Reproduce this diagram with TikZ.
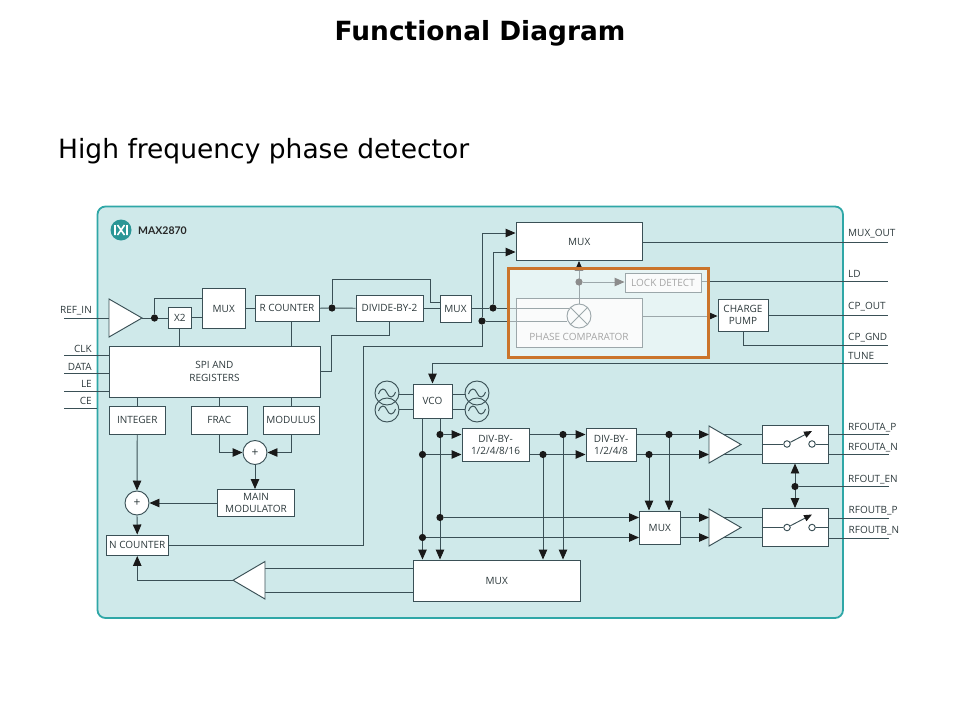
\documentclass[tikz,border=0pt]{standalone}
\usepackage{fontspec}
\usetikzlibrary{arrows.meta,calc}
\setmainfont{Open Sans}
\newfontfamily\ttlf{DejaVu Sans}
\newfontfamily\logof{Lato}
\definecolor{ln}{HTML}{3A5056}
\definecolor{pnl}{HTML}{CFE9EA}
\definecolor{pnlb}{HTML}{2FA7A7}
\definecolor{org}{HTML}{CB742B}
\definecolor{txt}{HTML}{2E3A3D}
\definecolor{grayfill}{HTML}{F6F8F8}
\pgfdeclarelayer{panel}\pgfdeclarelayer{conn}\pgfdeclarelayer{over}
\pgfsetlayers{panel,conn,main,over}
\tikzset{
  x=1pt,y=-1pt,
  bx/.style={draw=ln,fill=white,line width=.95pt,inner sep=0pt,align=center,font=\fontsize{10}{12.4}\selectfont,text=txt},
  pin/.style={inner sep=0pt,font=\fontsize{10}{12}\selectfont,text=txt},
  wire/.style={draw=ln,line width=.95pt},
  arr/.style={wire,-{Triangle[length=10pt,width=8.5pt,color=black!90]}},
  darr/.style={wire,{Triangle[length=10pt,width=8.5pt,color=black!90]}-{Triangle[length=10pt,width=8.5pt,color=black!90]}},
  jdot/.style={circle,fill=black!90,inner sep=0pt,minimum size=7.2pt},
  ring/.style={circle,draw=ln,line width=.95pt,fill=white,inner sep=0pt,minimum size=24pt,font=\fontsize{12}{12}\selectfont,text=txt},
  osc/.style={circle,draw=ln,line width=.95pt,inner sep=0pt,minimum size=24pt},
  contact/.style={circle,draw=ln,line width=.95pt,fill=white,inner sep=0pt,minimum size=6.5pt},
  tri/.style={draw=ln,fill=white,line width=.95pt,line join=miter},
}
\newcommand{\bxn}[7][]{%
  \pgfmathsetmacro{\mycx}{(#3+#5)/2}\pgfmathsetmacro{\mycy}{(#4+#6)/2}%
  \pgfmathsetmacro{\myw}{#5-#3}\pgfmathsetmacro{\myh}{#6-#4}%
  \node[bx,minimum width=\myw pt,minimum height=\myh pt,#1] (#2) at (\mycx,\mycy) {#7};}
\newcommand{\ampn}[5]{% name, xbase, ytop, ybottom, xtip
  \pgfmathsetmacro{\mycy}{(#3+#4)/2}%
  \draw[tri] (#2,#3) -- (#5,\mycy) -- (#2,#4) -- cycle;
  \coordinate (#1-b) at (#2,\mycy);\coordinate (#1-t) at (#5,\mycy);}
\newcommand{\wave}[1]{%
  \draw[ln,line width=.95pt] ($(#1.center)+(-8.5,1)$) .. controls ($(#1.center)+(-6,-6)$) and ($(#1.center)+(-2,-5)$) .. (#1.center) .. controls ($(#1.center)+(2,5)$) and ($(#1.center)+(6,6)$) .. ($(#1.center)+(8.5,-1)$);}
\newcommand{\pinl}[4]{\node[pin,anchor=#2,yshift=-1pt] (#1) at #3 {#4};}
\begin{document}
\begin{tikzpicture}
\useasboundingbox (0,0) rectangle (960,720);
\node[inner sep=0pt,font=\ttlf\bfseries\fontsize{26.4}{30}\selectfont,text=black] (title) at (480,33.5) {Functional Diagram};
\node[inner sep=0pt,anchor=west,font=\ttlf\fontsize{26.5}{30}\selectfont,text=black] (sub) at (58,151.5) {High frequency phase detector};
\begin{pgfonlayer}{panel}
\draw[draw=pnlb,fill=pnl,line width=1.8pt,rounded corners=8pt] (97.5,206.5) rectangle (843,618);
\end{pgfonlayer}
% logo
\node[circle,fill=pnlb!90!black,minimum size=21pt,inner sep=0pt] (logo) at (121,230) {};
\draw[white,line width=1.6pt] ($(logo)+(-6,-5)$) -- ($(logo)+(-6,5)$) ($(logo)+(6,-5)$) -- ($(logo)+(6,5)$) ($(logo)+(-3.5,-5)$) -- ($(logo)+(3.5,5)$) ($(logo)+(3.5,-5)$) -- ($(logo)+(-3.5,5)$);
\node[pin,anchor=west,yshift=0pt,font=\logof\bfseries\fontsize{10.5}{12}\selectfont,text=black!85] (partno) at (138,230.5) {MAX2870};
% boxes
\bxn{xtwo}{168}{307}{191.5}{328.5}{X2}
\bxn{muxa}{202}{288.5}{245.5}{328.5}{MUX}
\bxn{rcnt}{255}{295}{319}{321.5}{R COUNTER}
\bxn{divtwo}{356}{295}{423}{321.5}{DIVIDE-BY-2}
\bxn{muxb}{440}{295.5}{471}{322}{MUX}
\bxn{spi}{109}{346}{320}{397}{SPI AND\\REGISTERS}
\bxn{intg}{109.5}{406}{165}{434}{INTEGER}
\bxn{frac}{191.5}{406}{247}{434}{FRAC}
\bxn{modl}{263}{406}{319}{434}{MODULUS}
\bxn{mainm}{217.5}{489.5}{294.5}{516.5}{MAIN\\MODULATOR}
\bxn{ncnt}{106.5}{535}{168}{555.5}{N COUNTER}
\bxn{muxtop}{516}{222.5}{642.5}{260.5}{MUX}
\bxn[fill=grayfill,text=black!70]{lock}{625}{273}{701}{292.5}{LOCK DETECT}
\bxn[fill=grayfill]{phbox}{516}{298}{642}{347}{}
\node[pin,text=black!70] (phtxt) at (579,337) {PHASE COMPARATOR};
\bxn{cpump}{718}{299}{768}{331}{CHARGE\\PUMP}
\bxn{vco}{413}{384}{452}{418}{VCO}
\bxn{diva}{462}{428}{529}{461.5}{DIV-BY-\\1/2/4/8/16}
\bxn{divb}{586}{428}{636}{461.5}{DIV-BY-\\1/2/4/8}
\bxn{muxs}{639.5}{511}{680}{544.5}{MUX}
\bxn{muxbot}{413}{560}{580.5}{601}{MUX}
\bxn{swa}{762}{425.5}{828}{463}{}
\bxn{swb}{762}{508.5}{828}{546.5}{}
% junctions
\node[jdot] (ja) at (154.5,318) {};
\node[jdot] (jb) at (332,308) {};
\node[jdot] (jc) at (493,308) {};
\node[jdot] (jd) at (482,321) {};
\node[jdot] (je) at (579,282) {};
\node[jdot] (jf) at (440,434.5) {};
\node[jdot] (jg) at (422.5,454.5) {};
\node[jdot] (jh) at (440,517.5) {};
\node[jdot] (ji) at (422.5,537.5) {};
\node[jdot] (jj) at (563,434.5) {};
\node[jdot] (jk) at (543,454.5) {};
\node[jdot] (jl) at (669,434.5) {};
\node[jdot] (jm) at (649,454.5) {};
\node[jdot] (jn) at (795,486.5) {};
% comparator inputs run over the box
\coordinate (cmpc) at (579,316);
\draw[wire] (phbox.west |- jc) -- (568.5,308);
\draw[wire] (phbox.west |- jd) -- (567,321);
\draw[wire] (cmpc |- phbox.north) -- (cmpc);
% rings
\node[ring] (suma) at (137,503) {+};
\node[ring] (sumb) at (255,452.5) {+};
\node[ring,fill=grayfill] (cmp) at (cmpc) {};
\draw[ln,line width=.95pt] (cmp.north west) -- (cmp.south east) (cmp.north east) -- (cmp.south west);
% oscillators
\node[osc] (osca) at (387,393) {};
\node[osc] (oscb) at (387,410) {};
\node[osc] (oscc) at (477,393) {};
\node[osc] (oscd) at (477,410) {};
\wave{osca}\wave{oscb}\wave{oscc}\wave{oscd}
% triangles
\ampn{ain}{109}{299}{337}{142}
\ampn{afb}{265}{561.5}{599}{233}
\ampn{aa}{709}{426}{463}{741}
\ampn{ab}{709}{509}{546}{741}
% switches
\node[contact] (sac) at (787,444) {};
\node[contact] (sao) at (812,444) {};
\node[contact] (sbc) at (787,527.5) {};
\node[contact] (sbo) at (812,527.5) {};
% pin labels and free ends
\pinl{lrefin}{east}{(92,310)}{REF\_IN}
\pinl{lclk}{east}{(92,347.5)}{CLK}
\pinl{ldata}{east}{(92,365.5)}{DATA}
\pinl{lle}{east}{(92,382.5)}{LE}
\pinl{lce}{east}{(92,400)}{CE}
\pinl{lmuxo}{west}{(848,233)}{MUX\_OUT}
\pinl{lld}{west}{(848,272.5)}{LD}
\pinl{lcpo}{west}{(848,306)}{CP\_OUT}
\pinl{lcpg}{west}{(848,336.5)}{CP\_GND}
\pinl{ltune}{west}{(848,355)}{TUNE}
\pinl{lrap}{west}{(848,427)}{RFOUTA\_P}
\pinl{lran}{west}{(848,447)}{RFOUTA\_N}
\pinl{lren}{west}{(848,479)}{RFOUT\_EN}
\pinl{lrbp}{west}{(848.5,510)}{RFOUTB\_P}
\pinl{lrbn}{west}{(848.5,530)}{RFOUTB\_N}
\coordinate (prefin) at (64,318);
\coordinate (pclk) at (64,355.5);
\coordinate (pdata) at (64,373.5);
\coordinate (ple) at (64,391);
\coordinate (pce) at (64,408);
\coordinate (pce2) at (97,408);
\coordinate (pmuxo) at (888,242);
\coordinate (pld) at (888,281.5);
\coordinate (pcpo) at (888,315);
\coordinate (pcpg) at (888,345);
\coordinate (ptune) at (888,363.5);
\coordinate (prap) at (889,434.5);
\coordinate (pran) at (889,454.5);
\coordinate (pren) at (889,486.5);
\coordinate (prbp) at (889,518);
\coordinate (prbn) at (889,538);
\begin{pgfonlayer}{conn}
\draw[wire] (prefin) -- (ain-b);
\draw[wire] (pclk) -- (spi.west |- pclk);
\draw[wire] (pdata) -- (spi.west |- pdata);
\draw[wire] (ple) -- (spi.west |- ple);
\draw[wire] (pce) -- (pce2);
\draw[wire] (ain-t) -- (ja);
\draw[wire] (ja) -- (xtwo.west |- ja);
\draw[wire] (ja) -- (154.5,298.5) -- (muxa.west |- 0,298.5);
\draw[wire] (xtwo.east) -- (muxa.west |- xtwo.east);
\draw[wire] (xtwo.south) -- (spi.north -| xtwo.south);
\draw[wire] (muxa.east |- rcnt.west) -- (rcnt.west);
\draw[wire] (rcnt.east) -- (jb) -- (divtwo.west);
\draw[wire] (rcnt.south -| modl.north) -- (spi.north -| modl.north);
\draw[wire] (jb) -- (332,279) -- (430,279) -- (430,302) -- (muxb.west |- 0,302);
\draw[wire] (divtwo.east) -- (muxb.west |- divtwo.east);
\draw[wire] (divtwo.south) -- (divtwo.south |- 0,335) -- (331,335) -- (331,371) -- (spi.east |- 0,371);
\draw[wire] (muxb.east |- jc) -- (jc) -- (phbox.west |- jc);
\draw[arr] (jc) -- (jc |- 0,252) -- (muxtop.west |- 0,252);
\draw[wire] (jd) -- (phbox.west |- jd);
\draw[arr] (jd) -- (jd |- 0,233) -- (muxtop.west |- 0,233);
\draw[wire] (jd) -- (jd |- 0,346) -- (363,346) -- (363,545.5) -- (ncnt.east |- 0,545.5);
\draw[arr] (phbox.north -| cmpc) -- (muxtop.south -| cmpc);
\draw[arr] (je) -- (lock.west |- je);
\draw[wire] (muxtop.east |- pmuxo) -- (pmuxo);
\draw[wire] (lock.east |- pld) -- (pld);
\draw[arr] (phbox.east |- cmpc) -- (cpump.west |- cmpc);
\draw[wire] (cpump.east) -- (pcpo);
\draw[wire] (cpump.south) -- (cpump.south |- pcpg) -- (pcpg);
\draw[arr] (ptune) -- (vco.north |- ptune) -- (vco.north);
\draw[wire] (osca.east |- 0,394.5) -- (vco.west |- 0,394.5);
\draw[wire] (oscb.east |- 0,409) -- (vco.west |- 0,409);
\draw[wire] (vco.east |- 0,394.5) -- (oscc.west |- 0,394.5);
\draw[wire] (vco.east |- 0,409) -- (oscd.west |- 0,409);
\draw[arr] (vco.south -| jg) -- (muxbot.north -| jg);
\draw[arr] (vco.south -| jf) -- (muxbot.north -| jf);
\draw[arr] (jf) -- (diva.west |- jf);
\draw[arr] (jg) -- (diva.west |- jg);
\draw[arr] (jh) -- (muxs.west |- jh);
\draw[arr] (ji) -- (muxs.west |- ji);
\draw[arr] (diva.east |- jj) -- (divb.west |- jj);
\draw[arr] (diva.east |- jk) -- (divb.west |- jk);
\draw[arr] (jj) -- (muxbot.north -| jj);
\draw[arr] (jk) -- (muxbot.north -| jk);
\draw[arr] (divb.east |- jl) -- (aa-b |- jl);
\draw[arr] (divb.east |- jm) -- (aa-b |- jm);
\draw[arr] (jl) -- (muxs.north -| jl);
\draw[arr] (jm) -- (muxs.north -| jm);
\draw[arr] (muxs.east |- jh) -- (ab-b |- jh);
\draw[arr] (muxs.east |- ji) -- (ab-b |- ji);
\draw[wire] (aa-b |- jl) -- (swa.west |- jl);
\draw[wire] (aa-b |- jm) -- (swa.west |- jm);
\draw[wire] (ab-b |- jh) -- (swb.west |- jh);
\draw[wire] (ab-b |- ji) -- (swb.west |- ji);
\draw[wire] (swa.east |- prap) -- (prap);
\draw[wire] (swa.east |- pran) -- (pran);
\draw[wire] (swb.east |- prbp) -- (prbp);
\draw[wire] (swb.east |- prbn) -- (prbn);
\draw[wire] (jn) -- (pren);
\draw[darr] (swa.south -| jn) -- (swb.north -| jn);
\draw[wire] (muxbot.west |- 0,568) -- (afb-b |- 0,568);
\draw[wire] (muxbot.west |- 0,592.5) -- (afb-b |- 0,592.5);
\draw[arr] (afb-t) -- (ncnt.south |- afb-t) -- (ncnt.south);
\draw[wire] (spi.south -| intg.south) -- (intg.north);
\draw[wire] (spi.south -| frac.south) -- (frac.north);
\draw[wire] (spi.south -| modl.south) -- (modl.north);
\draw[arr] (intg.south) -- (suma.north);
\draw[arr] (suma.south) -- (ncnt.north);
\draw[arr] (frac.south) -- (frac.south |- sumb) -- (sumb.west);
\draw[arr] (modl.south) -- (modl.south |- sumb) -- (sumb.east);
\draw[arr] (sumb.south) -- (mainm.north -| sumb.south);
\draw[arr] (mainm.west |- suma) -- (suma.east);
\end{pgfonlayer}
% switch interiors
\draw[wire] (swa.west |- sac) -- (sac) (sao) -- (swa.east |- sao);
\draw[wire] (swb.west |- sbc) -- (sbc) (sbo) -- (swb.east |- sbo);
\draw[wire,-{Triangle[length=8pt,width=6.5pt,color=black!90]}] (sac) -- ($(sao)+(0,-13)$);
\draw[wire,-{Triangle[length=8pt,width=6.5pt,color=black!90]}] (sbc) -- ($(sbo)+(0,-13)$);
% highlight
\begin{pgfonlayer}{over}
\fill[white,opacity=.5] (508,268) rectangle (708,357);
\draw[org,line width=3pt] (508,268) rectangle (708,357);
\end{pgfonlayer}
\end{tikzpicture}
\end{document}
